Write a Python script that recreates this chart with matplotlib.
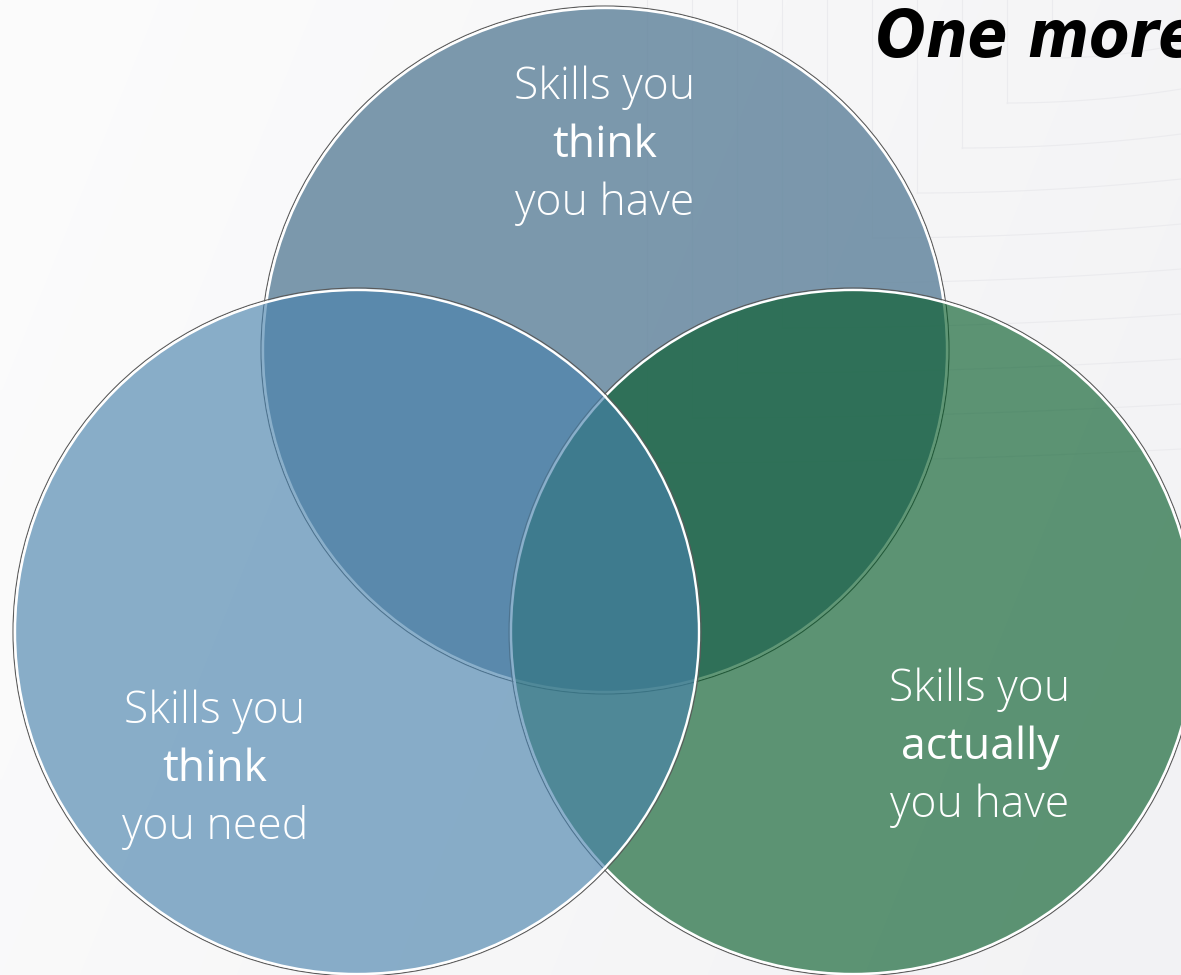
import numpy as np
import matplotlib
matplotlib.use("Agg")
import matplotlib.pyplot as plt
from matplotlib.patches import Circle

# ---- data ----
set_names = ["top", "right", "left"]
label_lines = [
    ["Skills you", "think", "you have"],
    ["Skills you", "actually", "you have"],
    ["Skills you", "think", "you need"],
]
emphasis_index = [1, 1, 1]
title_text = "One more"

# ---- layout / style ----
W, H = 1181, 975
centers = {"top": (605, 350), "right": (853, 632), "left": (357, 632)}
radius = 342
face = {"top": "#65879f", "right": "#035a27", "left": "#4882ad"}
alpha = {"top": 0.85, "right": 0.63, "left": 0.64}
text_pos = {"top": (605, 146), "right": (980, 748), "left": (215, 770)}
line_gap = 58

fig = plt.figure(figsize=(W / 100, H / 100), dpi=100)
ax = fig.add_axes([0, 0, 1, 1])
ax.set_xlim(0, W)
ax.set_ylim(H, 0)
ax.axis("off")

# background gradient
gx = np.linspace(0, 1, 300)
gy = np.linspace(0, 1, 250)
GX, GY = np.meshgrid(gx, gy)
t = np.clip(0.75 * GX + 0.25 * GY, 0, 1)
c0 = np.array([252, 252, 252]) / 255
c1 = np.array([242, 242, 244]) / 255
img = c0[None, None, :] * (1 - t[..., None]) + c1[None, None, :] * t[..., None]
ax.imshow(img, extent=(0, W, H, 0), aspect="auto", zorder=0, interpolation="bilinear")

# faint decorative nested corner lines
for k in range(-1, 9):
    xc = 1007 - 45 * k
    yc = 103 + 45 * k
    ax.plot([xc, xc], [0, yc], color="#ebebee", lw=0.8, zorder=1)
    xs = np.linspace(xc, W, 100)
    u = (xs - xc) / (W - xc)
    ys = yc - 14 * u ** 2
    ax.plot(xs, ys, color="#ebebee", lw=0.8, zorder=1)

# circles
z = 2
for name in set_names:
    cx, cy = centers[name]
    ax.add_patch(Circle((cx, cy), radius, facecolor=face[name], alpha=alpha[name],
                        edgecolor="none", zorder=z))
    ax.add_patch(Circle((cx, cy), radius + 2.0, facecolor="none", edgecolor="#5a5a5a",
                        lw=0.8, zorder=z + 0.1))
    ax.add_patch(Circle((cx, cy), radius, facecolor="none", edgecolor="white",
                        lw=1.7, zorder=z + 0.2))
    z += 1

# labels
for name, lines, ei in zip(set_names, label_lines, emphasis_index):
    x0, ymid = text_pos[name]
    for i, s in enumerate(lines):
        y = ymid + (i - 1) * line_gap
        ax.text(x0, y, s, ha="center", va="center", color="white",
                fontsize=32, family="Open Sans",
                fontweight=("normal" if i == ei else "light"), zorder=10)

# title
ax.text(876, 57, title_text, ha="left", va="baseline", color="black",
        fontsize=47, family="DejaVu Sans", fontweight="bold", fontstyle="oblique",
        fontstretch="condensed", zorder=10, clip_on=False)

fig.savefig("out.png", dpi=100)
